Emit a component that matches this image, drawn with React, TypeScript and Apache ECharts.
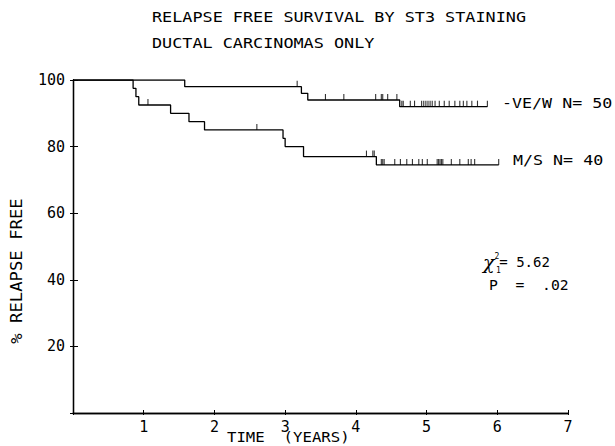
import React, { useEffect, useRef } from "react";
import * as echarts from "echarts";

// Kaplan-Meier step points [years, % relapse free]
const negSteps: [number, number][] = [
  [0, 100], [1.58, 98], [3.23, 96], [3.32, 94], [4.62, 92], [5.86, 92],
];
const msSteps: [number, number][] = [
  [0, 100], [0.85, 97.5], [0.89, 95], [0.93, 92.5], [1.38, 90], [1.64, 87.5],
  [1.86, 85], [2.97, 82.5], [3.0, 80], [3.26, 77], [4.29, 74.5], [6.02, 74.5],
];
// censored observation times (years)
const negCensored = [
  3.17, 3.57, 3.83, 4.28, 4.36, 4.38, 4.45, 4.58,
  4.65, 4.67, 4.77, 4.83, 4.93, 4.96, 4.99, 5.02, 5.05, 5.08, 5.12, 5.18,
  5.25, 5.32, 5.4, 5.47, 5.52, 5.57, 5.64, 5.72, 5.86,
];
const msCensored = [
  1.06, 2.6, 4.15, 4.24, 4.26, 4.36, 4.38, 4.4, 4.55, 4.63, 4.72, 4.8, 4.89,
  4.94, 5.01, 5.15, 5.17, 5.19, 5.21, 5.23, 5.35, 5.47, 5.59, 5.63, 5.68, 6.02,
];
const xTicks = [1, 2, 3, 4, 5, 6, 7];
const yTicks = [20, 40, 60, 80, 100];
const titleLines = ["RELAPSE FREE SURVIVAL BY ST3 STAINING", "DUCTAL CARCINOMAS ONLY"];
const groupLabels = ["-VE/W N= 50", "M/S N= 40"];
const xAxisTitle = "TIME  (YEARS)";
const yAxisTitle = "% RELAPSE FREE";
const chiSquare = "5.62";
const pValue = ".02";

const FONT = "DejaVu Sans Mono";

function survAt(steps: [number, number][], t: number): number {
  let v = steps[0][1];
  for (const [x, y] of steps) {
    if (x <= t) v = y;
  }
  return v;
}

export default function App() {
  const ref = useRef<HTMLDivElement>(null);
  useEffect(() => {
    document.body.style.margin = "0";
    const chart = echarts.init(ref.current!, null, { renderer: "svg" });
    const lineStyle = { color: "#000", width: 1.3 };
    const censorSeries = (times: number[], steps: [number, number][]) => ({
      type: "scatter",
      data: times.map((t) => [t, survAt(steps, t)]),
      symbol: "rect",
      symbolSize: [1.1, 6],
      symbolOffset: [0, -3],
      itemStyle: { color: "#000" },
      silent: true,
    });
    const axisCommon = {
      type: "value",
      axisLine: { show: true, lineStyle: { color: "#000", width: 1.3 } },
      splitLine: { show: false },
    };
    const txt = (text: string, x: number, y: number, sx: number, size = 14) => ({
      type: "text",
      x,
      y,
      scaleX: sx,
      silent: true,
      style: { text, fill: "#000", font: `${size}px '${FONT}'`, verticalAlign: "middle" },
    });
    chart.setOption({
      animation: false,
      backgroundColor: "#fff",
      grid: { left: 73, right: 47, top: 80, bottom: 33, containLabel: false, outerBoundsMode: "none" },
      xAxis: [
        {
          ...axisCommon,
          min: 0, max: 7, interval: 1,
          axisTick: { show: true, length: 2, lineStyle: { color: "#000" } },
          axisLabel: {
            color: "#000", fontFamily: FONT, fontSize: 15, margin: 6,
            formatter: (v: number) => (xTicks.includes(v) ? String(v) : ""),
          },
        },
        {
          ...axisCommon,
          position: "bottom",
          min: 0, max: 7, interval: 1,
          axisTick: { show: true, inside: true, length: 3, lineStyle: { color: "#000" } },
          axisLabel: { show: false },
        },
      ],
      yAxis: [
        {
          ...axisCommon,
          min: 0, max: 100, interval: 20,
          axisTick: { show: true, length: 3, lineStyle: { color: "#000" } },
          axisLabel: {
            color: "#000", fontFamily: FONT, fontSize: 15, margin: 8,
            formatter: (v: number) => (yTicks.includes(v) ? String(v) : ""),
          },
        },
        {
          ...axisCommon,
          position: "left",
          min: 0, max: 100, interval: 20,
          axisTick: { show: true, inside: true, length: 5, lineStyle: { color: "#000" } },
          axisLabel: { show: false },
        },
      ],
      series: [
        {
          type: "line", step: "end", data: negSteps, showSymbol: false,
          lineStyle, itemStyle: { color: "#000" }, silent: true,
        },
        {
          type: "line", step: "end", data: msSteps, showSymbol: false,
          lineStyle, itemStyle: { color: "#000" }, silent: true,
        },
        censorSeries(negCensored, negSteps),
        censorSeries(msCensored, msSteps),
      ],
      graphic: [
        txt(titleLines[0], 152, 17, 1.2),
        txt(titleLines[1], 152, 43, 1.2),
        txt(groupLabels[0], 502, 103, 1.19),
        txt(groupLabels[1], 513, 160, 1.19),
        txt(xAxisTitle, 227, 437, 1.12, 14),
        {
          type: "text",
          x: 17,
          y: 271,
          rotation: Math.PI / 2,
          scaleX: 1.15,
          silent: true,
          style: {
            text: yAxisTitle, fill: "#000", font: `15px '${FONT}'`,
            align: "center", verticalAlign: "middle",
          },
        },
        {
          type: "text",
          x: 483,
          y: 262,
          silent: true,
          style: {
            text: `{chi|χ}{sup|2}{eq|= ${chiSquare}}`,
            fill: "#000",
            verticalAlign: "middle",
            rich: {
              chi: { fontFamily: "DejaVu Serif", fontSize: 19, fontStyle: "italic", fill: "#000" },
              sup: { fontFamily: FONT, fontSize: 8, verticalAlign: "top", fill: "#000", padding: [0, 0, 10, 0] },
              eq: { fontFamily: FONT, fontSize: 14, fill: "#000" },
            },
          },
        },
        txt("1", 496, 270, 1, 8),
        txt(`P  =  ${pValue}`, 489, 285, 1.05),
      ],
    });
    return () => chart.dispose();
  }, []);
  return <div ref={ref} style={{ width: 615, height: 446 }} />;
}
